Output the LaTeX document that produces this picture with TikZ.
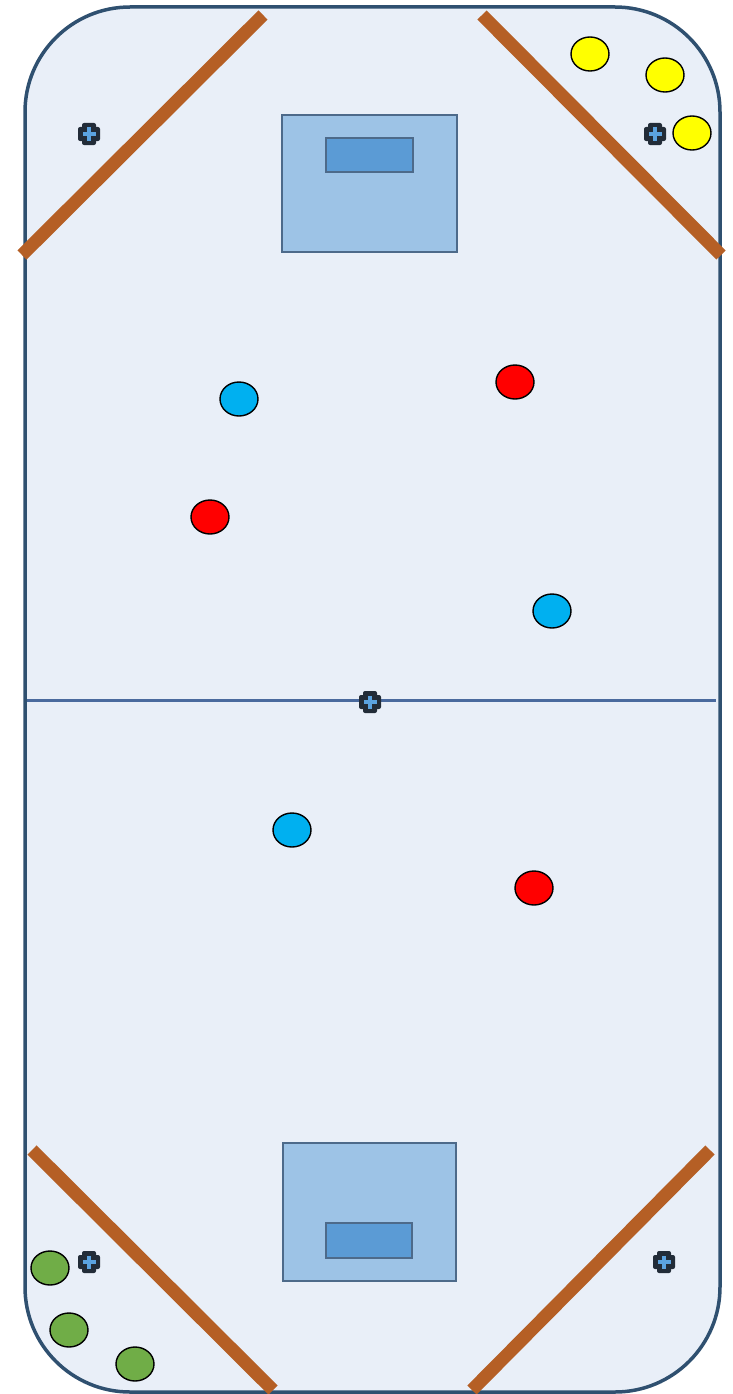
\documentclass[tikz,border=0pt]{standalone}
\usetikzlibrary{shapes.geometric}
\definecolor{rinkfill}{HTML}{E9EFF8}
\definecolor{rinkline}{HTML}{2F5070}
\definecolor{midline}{HTML}{4A6A9E}
\definecolor{stick}{HTML}{B55F25}
\definecolor{goalout}{HTML}{9DC3E6}
\definecolor{goalin}{HTML}{5B9BD5}
\definecolor{goalline}{HTML}{4D6A8A}
\definecolor{pblue}{HTML}{00B0F0}
\definecolor{pred}{HTML}{FF0000}
\definecolor{pyellow}{HTML}{FFFF00}
\definecolor{pgreen}{HTML}{70AD47}
\definecolor{mdark}{HTML}{222C38}
\definecolor{mblue}{HTML}{5BA3E0}
\tikzset{
  player/.style={ellipse, draw=black, line width=1.4pt, minimum width=38pt, minimum height=34pt, inner sep=0pt},
  stickline/.style={stick, line width=13pt},
  marker/.pic={
    \fill[mdark, rounded corners=2pt] (-11,-7) rectangle (11,7);
    \fill[mdark, rounded corners=2pt] (-7,-11) rectangle (7,11);
    \fill[mblue] (-6.5,-2) rectangle (6.5,2);
    \fill[mblue] (-2,-6.5) rectangle (2,6.5);
  }
}
\begin{document}
\begin{tikzpicture}[x=1pt,y=-1pt]
\useasboundingbox (0,0) rectangle (733,1394);
% rink
\draw[rinkline, fill=rinkfill, line width=3.5pt, rounded corners=105pt] (25,7) rectangle (720,1392);
% center line
\draw[midline, line width=3pt] (27,700) -- (716,700);
% sticks
\coordinate (s1a) at (22,255); \coordinate (s1b) at (263,15);
\coordinate (s2a) at (482,15); \coordinate (s2b) at (721,255);
\coordinate (s3a) at (32,1150); \coordinate (s3b) at (273,1390);
\coordinate (s4a) at (710,1150); \coordinate (s4b) at (472,1390);
\draw[stickline] (s1a) -- (s1b);
\draw[stickline] (s2a) -- (s2b);
\draw[stickline] (s3a) -- (s3b);
\draw[stickline] (s4a) -- (s4b);
% goals
\draw[goalline, fill=goalout, line width=1.4pt] (282,115) rectangle (457,252);
\draw[goalline, fill=goalin, line width=1.4pt] (326,138) rectangle (413,172);
\draw[goalline, fill=goalout, line width=1.4pt] (283,1143) rectangle (456,1281);
\draw[goalline, fill=goalin, line width=1.4pt] (326,1223) rectangle (412,1258);
% markers
\pic at (89,134) {marker};
\pic at (655,134) {marker};
\pic at (370,702) {marker};
\pic at (89,1262) {marker};
\pic at (664,1262) {marker};
% players
\node[player, fill=pblue] (b1) at (239,399) {};
\node[player, fill=pblue] (b2) at (552,611) {};
\node[player, fill=pblue] (b3) at (292,830) {};
\node[player, fill=pred] (r1) at (515,382) {};
\node[player, fill=pred] (r2) at (210,517) {};
\node[player, fill=pred] (r3) at (534,888) {};
\node[player, fill=pyellow] (y1) at (590,54) {};
\node[player, fill=pyellow] (y2) at (665,75) {};
\node[player, fill=pyellow] (y3) at (692,133) {};
\node[player, fill=pgreen] (g1) at (50,1268) {};
\node[player, fill=pgreen] (g2) at (69,1330) {};
\node[player, fill=pgreen] (g3) at (135,1364) {};
\end{tikzpicture}
\end{document}
